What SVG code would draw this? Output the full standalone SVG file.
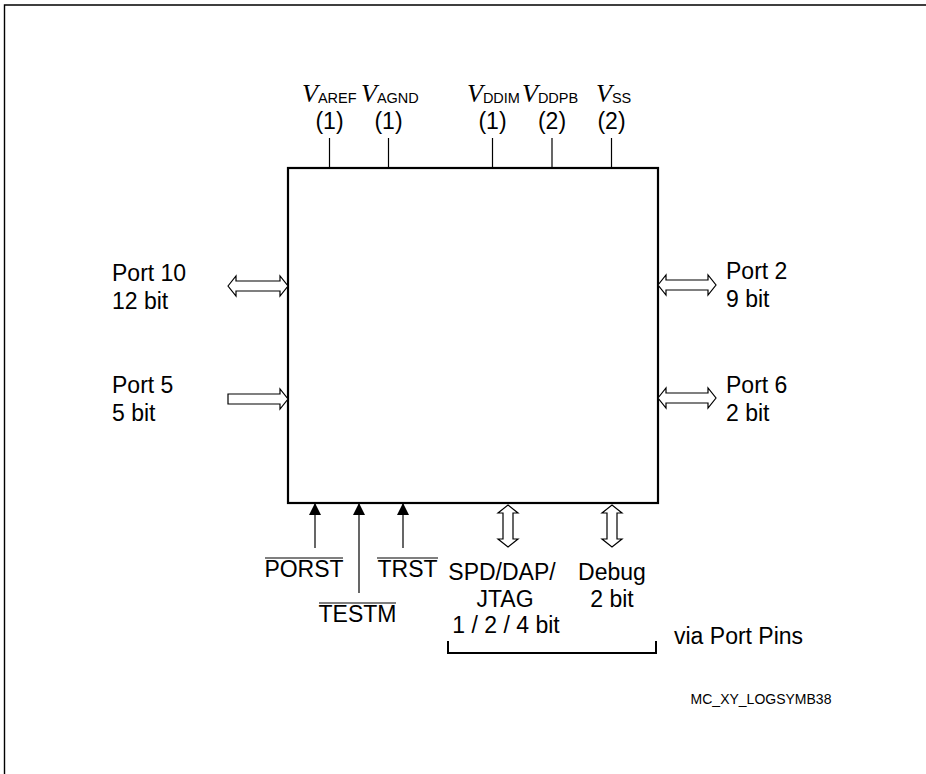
<svg xmlns="http://www.w3.org/2000/svg" width="926" height="774" viewBox="0 0 926 774">
<defs>
<style>
.t{font-family:"Liberation Sans",Arial,sans-serif;font-size:23px;fill:#000}
.v{font-family:"Liberation Serif","Times New Roman",serif;font-style:italic;font-size:26px;fill:#000}
.s{font-family:"Liberation Sans",Arial,sans-serif;font-size:14.5px;font-style:normal}
.pin{stroke:#000;stroke-width:1.2;fill:none}
.br{stroke:#000;stroke-width:2;fill:none}
.ha{stroke:#000;stroke-width:1.2;fill:#fff;stroke-linejoin:miter}
.ov{stroke:#000;stroke-width:1.2}
</style>
<marker id="fa" viewBox="0 0 12 12" refX="12" refY="6" markerWidth="12" markerHeight="12" markerUnits="userSpaceOnUse" orient="auto">
<path d="M0,0 L12,6 L0,12 Z" fill="#000"/>
</marker>
</defs>
<rect width="926" height="774" fill="#fff"/>
<path d="M4.5,774 V5 H926" fill="none" stroke="#000" stroke-width="1.4"/>

<g id="chip"><rect x="288" y="168" width="370" height="335" fill="none" stroke="#000" stroke-width="2.2"/></g>

<g id="connectors">
<line class="pin" x1="329.5" y1="138" x2="329.5" y2="168"/>
<line class="pin" x1="388.5" y1="138" x2="388.5" y2="168"/>
<line class="pin" x1="492.5" y1="138" x2="492.5" y2="168"/>
<line class="pin" x1="552" y1="138" x2="552" y2="168"/>
<line class="pin" x1="611.5" y1="138" x2="611.5" y2="168"/>
<line class="pin" x1="315" y1="548" x2="315" y2="503" marker-end="url(#fa)"/>
<line class="pin" x1="359" y1="593" x2="359" y2="503" marker-end="url(#fa)"/>
<line class="pin" x1="403" y1="548" x2="403" y2="503" marker-end="url(#fa)"/>
<polygon class="ha" points="228,286 236,276 236,281 280,281 280,276 288,286 280,296 280,291 236,291 236,296"/>
<polygon class="ha" points="228,394 280,394 280,389 288,399 280,409 280,404 228,404"/>
<polygon class="ha" points="658,285 666,275 666,280 708,280 708,275 716,285 708,295 708,290 666,290 666,295"/>
<polygon class="ha" points="658,398 666,388 666,393 708,393 708,388 716,398 708,408 708,403 666,403 666,408"/>
<polygon class="ha" points="508,505 518,513 513,513 513,539 518,539 508,547 498,539 503,539 503,513 498,513"/>
<polygon class="ha" points="612,505 622,513 617,513 617,539 622,539 612,547 602,539 607,539 607,513 602,513"/>
<path class="br" d="M448,641 V653 H656 V641"/>
</g>

<g id="supply-labels">
<text class="v" x="302" y="102">V<tspan class="s" dy="1">AREF</tspan></text>
<text class="v" x="361" y="102">V<tspan class="s" dy="1">AGND</tspan></text>
<text class="v" x="467" y="102">V<tspan class="s" dy="1">DDIM</tspan></text>
<text class="v" x="522" y="102">V<tspan class="s" dy="1">DDPB</tspan></text>
<text class="v" x="596" y="102">V<tspan class="s" dy="1">SS</tspan></text>
<text class="t" x="329.5" y="129" text-anchor="middle">(1)</text>
<text class="t" x="388.5" y="129" text-anchor="middle">(1)</text>
<text class="t" x="492.5" y="129" text-anchor="middle">(1)</text>
<text class="t" x="552" y="129" text-anchor="middle">(2)</text>
<text class="t" x="611.5" y="129" text-anchor="middle">(2)</text>
</g>

<g id="port10"><text class="t" x="112" y="281">Port 10</text><text class="t" x="112" y="309">12 bit</text></g>
<g id="port5"><text class="t" x="112" y="393">Port 5</text><text class="t" x="112" y="421">5 bit</text></g>
<g id="port2"><text class="t" x="726" y="279">Port 2</text><text class="t" x="726" y="307">9 bit</text></g>
<g id="port6"><text class="t" x="726" y="393">Port 6</text><text class="t" x="726" y="421">2 bit</text></g>

<g id="porst"><text class="t" x="304" y="577" text-anchor="middle">PORST</text><line class="ov" x1="265" y1="558" x2="343" y2="558"/></g>
<g id="testm"><text class="t" x="357.5" y="622" text-anchor="middle">TESTM</text><line class="ov" x1="319" y1="603" x2="396" y2="603"/></g>
<g id="trst"><text class="t" x="407.5" y="577" text-anchor="middle">TRST</text><line class="ov" x1="377" y1="558" x2="438" y2="558"/></g>

<g id="spd"><text class="t" x="502" y="580" text-anchor="middle">SPD/DAP/</text><text class="t" x="505" y="607" text-anchor="middle">JTAG</text><text class="t" x="506" y="633" text-anchor="middle">1 / 2 / 4 bit</text></g>
<g id="debug"><text class="t" x="612" y="580" text-anchor="middle">Debug</text><text class="t" x="612" y="607" text-anchor="middle">2 bit</text></g>
<g id="via"><text class="t" x="674" y="644">via Port Pins</text></g>
<g id="caption"><text class="t" x="761" y="704" text-anchor="middle" style="font-size:14px">MC_XY_LOGSYMB38</text></g>
</svg>
